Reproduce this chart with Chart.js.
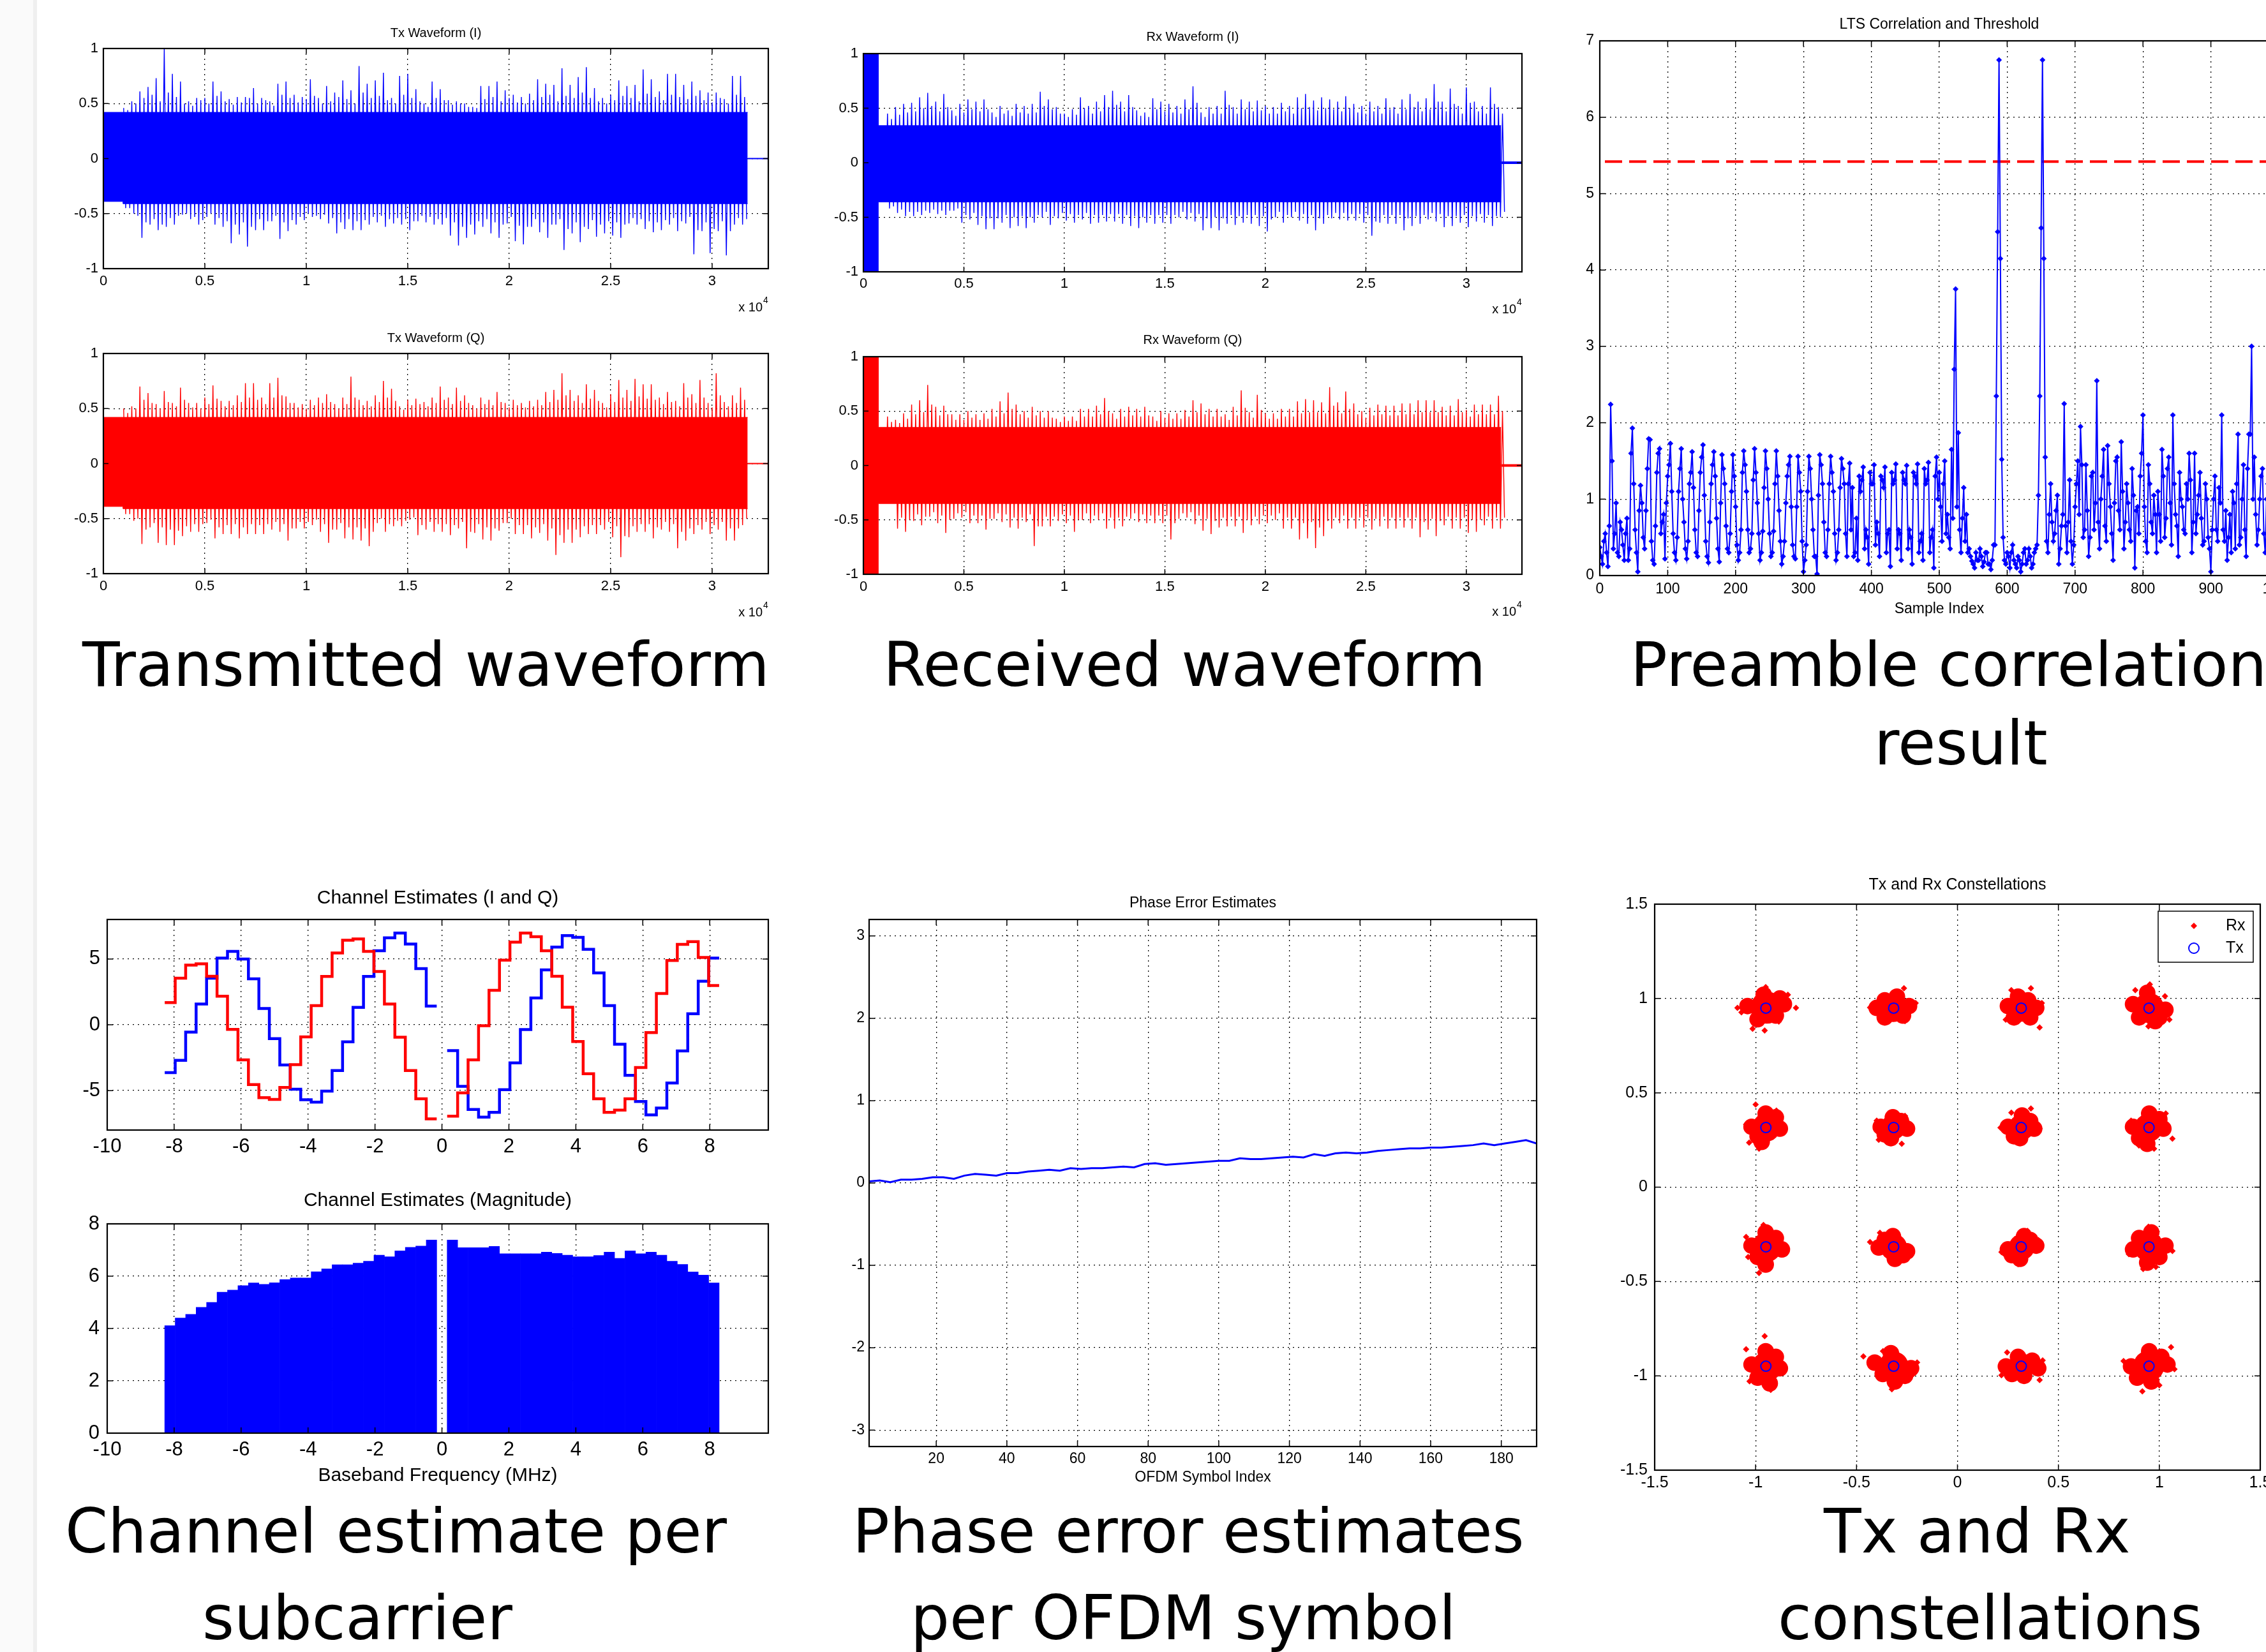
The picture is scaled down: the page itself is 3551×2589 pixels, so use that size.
<!DOCTYPE html>
<html>
<head>
<meta charset="utf-8">
<title>OFDM link plots</title>
<script src="https://cdn.jsdelivr.net/npm/chart.js@4.4.0/dist/chart.umd.min.js"></script>
<style>
html, body { margin: 0; padding: 0; overflow: hidden; background: #fff; }
#page { position: relative; width: 3551px; height: 2589px; overflow: hidden; background: #fff; }
#edge { position: absolute; left: 0; top: 0; width: 52px; height: 2589px; background: #fafafa; border-right: 6px solid #efefef; }
.cap { position: absolute; font-family: 'DejaVu Sans', Verdana, sans-serif; font-size: 96px; line-height: 96px; color: #000; white-space: nowrap; }
canvas { position: absolute; }
</style>
</head>
<body>
<div id="page">
  <div id="edge"></div>
  <div class="cap" style="left:129px;top:994px">Transmitted waveform</div>
  <div class="cap" style="left:1384px;top:994px">Received waveform</div>
  <div class="cap" style="left:2555px;top:994px">Preamble correlation</div>
  <div class="cap" style="left:2937px;top:1117px">result</div>
  <div class="cap" style="left:102px;top:2352px">Channel estimate per</div>
  <div class="cap" style="left:317px;top:2488px">subcarrier</div>
  <div class="cap" style="left:1336px;top:2352px">Phase error estimates</div>
  <div class="cap" style="left:1427px;top:2488px">per OFDM symbol</div>
  <div class="cap" style="left:2858px;top:2352px">Tx and Rx</div>
  <div class="cap" style="left:2786px;top:2488px">constellations</div>
</div>
<script>
// ---------- data ----------
var nSamples = 32768;

// Tx waveform: preamble band, then spike envelope every 400 samples
// (Hi/Lo = tallest spikes in the bin, MidHi/MidLo = the dense fuzz level)
var txPreEnd = 976, txEnd = 31750, txBinStart = 1000, txBinStep = 400;
var txIPre = [0.42, -0.39], txIBand = [0.42, -0.41];
var txQPre = [0.42, -0.39], txQBand = [0.42, -0.41];
var txIHi = [0.46,0.52,0.61,0.65,0.73,1.00,0.77,0.70,0.52,0.55,
  0.55,0.70,0.61,0.54,0.56,0.56,0.64,0.55,0.52,0.68,
  0.70,0.58,0.56,0.72,0.55,0.66,0.60,0.71,0.62,0.84,
  0.68,0.71,0.78,0.55,0.75,0.77,0.63,0.50,0.70,0.63,
  0.53,0.52,0.50,0.47,0.66,0.66,0.70,0.62,0.58,0.56,
  0.59,0.72,0.68,0.67,0.82,0.67,0.74,0.83,0.64,0.55,
  0.58,0.71,0.66,0.67,0.81,0.72,0.61,0.77,0.77,0.67,
  0.70,0.62,0.60,0.60,0.54,0.75,0.75];
var txILo = [-0.45,-0.50,-0.72,-0.60,-0.65,-0.62,-0.60,-0.51,-0.55,-0.60,
  -0.53,-0.60,-0.62,-0.77,-0.69,-0.80,-0.65,-0.65,-0.57,-0.73,
  -0.66,-0.60,-0.56,-0.53,-0.55,-0.59,-0.68,-0.64,-0.65,-0.65,
  -0.60,-0.58,-0.62,-0.59,-0.60,-0.65,-0.57,-0.58,-0.60,-0.60,
  -0.70,-0.79,-0.72,-0.69,-0.62,-0.68,-0.72,-0.59,-0.75,-0.78,
  -0.62,-0.67,-0.72,-0.60,-0.83,-0.68,-0.76,-0.64,-0.71,-0.68,
  -0.70,-0.72,-0.59,-0.60,-0.64,-0.67,-0.65,-0.60,-0.66,-0.59,
  -0.87,-0.66,-0.86,-0.66,-0.88,-0.60,-0.60];
var txIMidHi = [0.44,0.50,0.55,0.58,0.52,0.60,0.56,0.50,0.48,0.53,
  0.50,0.57,0.52,0.49,0.51,0.55,0.50,0.53,0.48,0.58,
  0.55,0.51,0.54,0.57,0.50,0.52,0.56,0.54,0.50,0.60,
  0.55,0.57,0.53,0.50,0.58,0.55,0.52,0.47,0.55,0.53,
  0.49,0.50,0.47,0.46,0.54,0.56,0.52,0.55,0.51,0.50,
  0.53,0.56,0.58,0.52,0.57,0.55,0.60,0.55,0.52,0.50,
  0.53,0.57,0.55,0.52,0.59,0.56,0.53,0.58,0.56,0.54,
  0.57,0.53,0.51,0.55,0.50,0.58,0.56];
var txIMidLo = [-0.45,-0.52,-0.58,-0.55,-0.60,-0.54,-0.52,-0.50,-0.53,-0.56,
  -0.50,-0.54,-0.57,-0.60,-0.58,-0.62,-0.55,-0.57,-0.52,-0.58,
  -0.56,-0.53,-0.50,-0.52,-0.51,-0.54,-0.58,-0.55,-0.57,-0.56,
  -0.53,-0.52,-0.55,-0.54,-0.55,-0.57,-0.52,-0.53,-0.55,-0.54,
  -0.58,-0.62,-0.60,-0.57,-0.55,-0.58,-0.60,-0.53,-0.61,-0.62,
  -0.55,-0.58,-0.60,-0.55,-0.64,-0.58,-0.62,-0.56,-0.60,-0.57,
  -0.58,-0.60,-0.54,-0.55,-0.57,-0.58,-0.56,-0.54,-0.57,-0.53,
  -0.65,-0.58,-0.64,-0.57,-0.66,-0.54,-0.55];
var txQHi = [0.50,0.52,0.70,0.64,0.54,0.66,0.55,0.69,0.55,0.55,
  0.60,0.71,0.57,0.57,0.62,0.73,0.73,0.60,0.73,0.78,
  0.61,0.55,0.54,0.58,0.60,0.63,0.54,0.60,0.79,0.58,
  0.57,0.62,0.75,0.68,0.52,0.58,0.59,0.56,0.60,0.70,
  0.60,0.69,0.62,0.53,0.60,0.58,0.65,0.55,0.58,0.55,
  0.57,0.58,0.65,0.67,0.82,0.67,0.62,0.72,0.67,0.55,
  0.63,0.76,0.67,0.77,0.72,0.72,0.60,0.65,0.57,0.73,
  0.63,0.76,0.55,0.82,0.56,0.62,0.69];
var txQLo = [-0.46,-0.52,-0.73,-0.58,-0.72,-0.74,-0.74,-0.66,-0.62,-0.62,
  -0.54,-0.68,-0.64,-0.64,-0.68,-0.64,-0.64,-0.64,-0.60,-0.62,
  -0.70,-0.59,-0.59,-0.56,-0.62,-0.72,-0.60,-0.68,-0.69,-0.70,
  -0.75,-0.54,-0.62,-0.57,-0.57,-0.51,-0.65,-0.60,-0.62,-0.62,
  -0.65,-0.59,-0.77,-0.63,-0.69,-0.70,-0.61,-0.54,-0.64,-0.64,
  -0.68,-0.63,-0.70,-0.83,-0.72,-0.72,-0.67,-0.64,-0.64,-0.60,
  -0.67,-0.85,-0.67,-0.62,-0.62,-0.68,-0.60,-0.62,-0.77,-0.70,
  -0.64,-0.60,-0.64,-0.60,-0.70,-0.70,-0.56];
var txQMidHi = [0.46,0.50,0.58,0.55,0.50,0.56,0.52,0.58,0.51,0.50,
  0.54,0.59,0.52,0.53,0.56,0.60,0.58,0.54,0.60,0.62,
  0.55,0.51,0.50,0.53,0.55,0.56,0.50,0.54,0.60,0.53,
  0.52,0.56,0.60,0.57,0.49,0.53,0.54,0.52,0.55,0.58,
  0.54,0.57,0.55,0.50,0.54,0.53,0.56,0.51,0.53,0.51,
  0.52,0.53,0.56,0.58,0.62,0.57,0.55,0.59,0.57,0.51,
  0.56,0.60,0.57,0.61,0.59,0.58,0.54,0.56,0.52,0.60,
  0.55,0.60,0.51,0.62,0.52,0.55,0.58];
var txQMidLo = [-0.46,-0.50,-0.60,-0.54,-0.58,-0.60,-0.61,-0.57,-0.55,-0.55,
  -0.51,-0.58,-0.56,-0.55,-0.58,-0.55,-0.56,-0.55,-0.53,-0.55,
  -0.59,-0.53,-0.53,-0.51,-0.55,-0.60,-0.54,-0.58,-0.58,-0.59,
  -0.62,-0.50,-0.55,-0.52,-0.52,-0.49,-0.56,-0.53,-0.55,-0.55,
  -0.56,-0.53,-0.62,-0.55,-0.58,-0.59,-0.54,-0.50,-0.56,-0.56,
  -0.58,-0.55,-0.59,-0.65,-0.60,-0.60,-0.57,-0.56,-0.56,-0.53,
  -0.57,-0.66,-0.57,-0.55,-0.55,-0.58,-0.53,-0.55,-0.62,-0.59,
  -0.56,-0.53,-0.56,-0.53,-0.59,-0.59,-0.50];

// Rx waveform: saturated start, then spike envelope every 400 samples
var rxPreEnd = 740, rxEnd = 31730, rxBinStart = 800, rxBinStep = 400;
var rxPre = [1, -1];
var rxIBand = [0.34, -0.36], rxQBand = [0.35, -0.35];
var rxIHi = [0.30,0.45,0.51,0.54,0.55,0.60,0.64,0.56,0.63,0.48,
  0.54,0.58,0.56,0.58,0.46,0.52,0.48,0.54,0.52,0.54,
  0.65,0.58,0.51,0.45,0.49,0.60,0.52,0.56,0.62,0.66,
  0.56,0.62,0.48,0.46,0.59,0.56,0.54,0.52,0.58,0.70,
  0.46,0.51,0.52,0.66,0.51,0.58,0.56,0.57,0.52,0.51,
  0.55,0.52,0.60,0.63,0.57,0.60,0.58,0.56,0.61,0.54,
  0.52,0.56,0.52,0.59,0.51,0.58,0.63,0.56,0.59,0.72,
  0.56,0.68,0.52,0.69,0.56,0.52,0.69,0.51];
var rxILo = [-0.36,-0.42,-0.46,-0.49,-0.49,-0.48,-0.46,-0.47,-0.48,-0.44,
  -0.55,-0.52,-0.57,-0.61,-0.61,-0.55,-0.60,-0.58,-0.60,-0.55,
  -0.50,-0.57,-0.51,-0.53,-0.55,-0.52,-0.56,-0.55,-0.54,-0.54,
  -0.56,-0.58,-0.60,-0.55,-0.56,-0.55,-0.56,-0.50,-0.52,-0.54,
  -0.62,-0.60,-0.62,-0.56,-0.57,-0.55,-0.56,-0.58,-0.63,-0.50,
  -0.55,-0.50,-0.53,-0.56,-0.62,-0.56,-0.51,-0.52,-0.53,-0.53,
  -0.55,-0.67,-0.55,-0.56,-0.56,-0.62,-0.58,-0.56,-0.52,-0.54,
  -0.59,-0.58,-0.55,-0.59,-0.54,-0.55,-0.58,-0.50];
var rxIMidHi = [0.30,0.40,0.44,0.46,0.47,0.50,0.52,0.47,0.51,0.43,
  0.46,0.49,0.47,0.49,0.42,0.45,0.43,0.46,0.45,0.46,
  0.52,0.49,0.45,0.42,0.44,0.50,0.45,0.47,0.51,0.53,
  0.47,0.51,0.43,0.42,0.49,0.47,0.46,0.45,0.49,0.55,
  0.42,0.45,0.45,0.53,0.45,0.49,0.47,0.48,0.45,0.45,
  0.47,0.45,0.50,0.51,0.48,0.50,0.49,0.47,0.50,0.46,
  0.45,0.47,0.45,0.49,0.45,0.49,0.51,0.47,0.49,0.56,
  0.47,0.54,0.45,0.55,0.47,0.45,0.54,0.45];
var rxIMidLo = [-0.36,-0.40,-0.43,-0.45,-0.45,-0.44,-0.43,-0.44,-0.44,-0.42,
  -0.48,-0.46,-0.49,-0.51,-0.51,-0.48,-0.50,-0.49,-0.50,-0.48,
  -0.45,-0.49,-0.46,-0.47,-0.48,-0.46,-0.48,-0.48,-0.47,-0.47,
  -0.48,-0.49,-0.50,-0.48,-0.48,-0.48,-0.48,-0.45,-0.46,-0.47,
  -0.51,-0.50,-0.51,-0.48,-0.49,-0.48,-0.48,-0.49,-0.52,-0.45,
  -0.48,-0.45,-0.47,-0.48,-0.51,-0.48,-0.46,-0.46,-0.47,-0.47,
  -0.48,-0.54,-0.48,-0.48,-0.48,-0.51,-0.49,-0.48,-0.46,-0.47,
  -0.49,-0.49,-0.48,-0.49,-0.47,-0.48,-0.49,-0.45];
var rxQHi = [0.34,0.45,0.42,0.48,0.56,0.60,0.74,0.54,0.55,0.47,
  0.47,0.50,0.47,0.48,0.52,0.59,0.67,0.56,0.50,0.54,
  0.50,0.50,0.43,0.45,0.45,0.52,0.52,0.55,0.62,0.48,
  0.52,0.54,0.52,0.54,0.45,0.50,0.48,0.48,0.51,0.60,
  0.57,0.52,0.52,0.47,0.54,0.69,0.49,0.65,0.48,0.48,
  0.52,0.52,0.59,0.61,0.60,0.58,0.72,0.58,0.68,0.57,
  0.50,0.53,0.56,0.55,0.55,0.57,0.57,0.60,0.60,0.60,
  0.54,0.55,0.61,0.51,0.56,0.56,0.56,0.64];
var rxQLo = [-0.28,-0.34,-0.58,-0.61,-0.51,-0.55,-0.47,-0.53,-0.62,-0.49,
  -0.48,-0.53,-0.53,-0.59,-0.49,-0.52,-0.57,-0.58,-0.52,-0.74,
  -0.56,-0.56,-0.51,-0.53,-0.61,-0.50,-0.53,-0.50,-0.58,-0.58,
  -0.56,-0.49,-0.52,-0.53,-0.53,-0.53,-0.68,-0.49,-0.48,-0.54,
  -0.60,-0.63,-0.57,-0.56,-0.56,-0.62,-0.55,-0.54,-0.53,-0.50,
  -0.58,-0.58,-0.68,-0.67,-0.76,-0.65,-0.58,-0.53,-0.58,-0.58,
  -0.57,-0.59,-0.56,-0.58,-0.58,-0.57,-0.58,-0.66,-0.59,-0.65,
  -0.55,-0.58,-0.58,-0.62,-0.61,-0.55,-0.58,-0.58];
var rxQMidHi = [0.33,0.40,0.39,0.43,0.47,0.49,0.56,0.46,0.47,0.42,
  0.42,0.44,0.42,0.43,0.45,0.48,0.52,0.47,0.44,0.46,
  0.44,0.44,0.40,0.41,0.41,0.45,0.45,0.47,0.50,0.43,
  0.45,0.46,0.45,0.46,0.41,0.44,0.43,0.43,0.45,0.49,
  0.47,0.45,0.45,0.42,0.46,0.53,0.44,0.51,0.43,0.43,
  0.45,0.45,0.48,0.49,0.49,0.48,0.55,0.48,0.52,0.47,
  0.44,0.46,0.47,0.46,0.46,0.47,0.47,0.49,0.49,0.49,
  0.46,0.46,0.49,0.45,0.47,0.47,0.47,0.50];
var rxQMidLo = [-0.30,-0.34,-0.48,-0.50,-0.45,-0.47,-0.43,-0.46,-0.50,-0.44,
  -0.43,-0.46,-0.46,-0.49,-0.44,-0.45,-0.48,-0.48,-0.45,-0.56,
  -0.47,-0.47,-0.45,-0.46,-0.50,-0.44,-0.46,-0.44,-0.48,-0.48,
  -0.47,-0.44,-0.45,-0.46,-0.46,-0.46,-0.53,-0.44,-0.43,-0.46,
  -0.49,-0.51,-0.48,-0.47,-0.47,-0.50,-0.47,-0.46,-0.46,-0.44,
  -0.48,-0.48,-0.53,-0.52,-0.57,-0.51,-0.48,-0.46,-0.48,-0.48,
  -0.48,-0.49,-0.47,-0.48,-0.48,-0.48,-0.48,-0.52,-0.49,-0.51,
  -0.47,-0.48,-0.48,-0.50,-0.50,-0.47,-0.48,-0.48];

// LTS correlation: ltsVal at samples 0,4,8,...; ltsValMid at samples 2,6,10,...
var ltsStep = 4;
var ltsThreshold = 5.42;
var ltsVal = [0.37,0.15,0.55,0.12,2.24,0.35,0.95,0.25,0.60,0.20,0.75,0.35,1.93,
  0.60,0.05,1.18,0.50,0.85,1.79,0.45,0.15,1.35,1.66,0.70,0.22,
  1.30,1.73,0.55,0.20,1.10,1.66,0.70,0.22,1.20,1.62,0.60,0.25,
  1.35,1.71,0.45,0.17,1.20,1.62,0.75,0.18,1.58,1.20,0.35,0.55,
  1.58,0.90,0.20,0.60,1.63,1.10,0.30,0.55,1.66,0.95,0.20,0.58,
  1.63,1.00,0.25,0.58,1.63,0.85,0.15,0.45,1.30,1.56,0.40,0.22,
  1.56,1.10,0.05,0.40,1.56,1.00,0.25,0.02,1.58,1.20,0.30,0.60,
  1.56,1.10,0.20,0.60,1.53,1.20,0.25,1.47,1.15,0.30,0.20,1.10,
  1.42,0.60,0.15,1.20,1.45,0.70,0.25,1.25,1.42,0.55,0.12,1.20,
  1.46,0.60,0.20,1.25,1.44,0.60,0.15,1.30,1.46,0.45,0.20,1.20,
  1.48,0.50,0.10,1.55,1.35,0.45,1.50,0.80,0.35,0.75,3.75,1.87,
  0.30,1.15,0.80,0.35,0.19,0.10,0.20,0.35,0.12,0.30,0.15,0.08,
  0.40,2.35,6.75,1.52,0.20,0.30,0.10,0.40,0.15,0.25,0.05,0.30,
  0.15,0.35,0.10,0.30,0.40,2.35,6.75,1.55,0.30,1.20,0.45,0.85,
  0.15,0.65,2.25,0.30,1.25,0.15,0.90,1.50,1.95,0.50,1.45,0.25,
  1.30,0.60,2.55,0.35,1.30,0.65,1.70,0.90,0.20,1.50,0.85,1.75,
  0.35,1.20,0.60,1.40,0.10,0.90,1.30,2.10,0.45,1.45,0.70,1.05,
  0.30,0.80,1.65,0.50,1.40,0.95,2.10,0.80,0.25,1.00,0.60,1.20,
  1.60,0.30,1.60,0.80,1.35,0.40,1.20,0.50,0.05,1.00,0.60,1.15,
  2.10,0.45,0.20,0.80,1.10,0.35,1.85,0.50,1.45,0.25,1.85,3.00,
  1.55,0.40,1.00,1.40,0.30,1.20,0.70,1.30,0.45,1.00,1.40,0.60,1.10];
var ltsValMid = [0.25,0.45,0.30,0.65,1.50,0.55,0.30,0.70,0.40,0.55,0.20,1.60,
  1.20,0.30,0.85,0.95,0.35,1.40,1.78,0.20,0.65,1.60,0.55,0.80,
  0.95,1.45,1.10,0.30,0.50,1.40,1.00,0.35,0.45,1.35,1.15,0.30,
  0.85,1.55,1.05,0.25,0.70,1.45,1.30,0.35,0.95,1.40,0.65,0.30,
  1.10,1.30,0.40,0.30,1.35,1.45,0.60,0.35,1.25,1.35,0.55,0.30,
  1.15,1.40,0.55,0.30,1.20,1.30,0.45,0.25,0.95,1.45,0.90,0.25,
  0.90,1.35,0.45,0.20,1.10,1.40,0.60,0.25,1.05,1.45,0.70,0.25,
  1.20,1.35,0.55,0.30,1.15,1.40,0.55,1.20,0.60,0.25,0.75,1.30,
  1.25,0.35,0.50,1.35,1.20,0.40,0.55,1.30,1.15,0.30,0.60,1.35,
  1.25,0.35,0.55,1.35,1.20,0.35,0.50,1.35,1.20,0.30,0.55,1.40,
  1.25,0.30,0.60,1.30,1.00,0.90,1.20,0.55,0.50,1.65,2.70,0.90,
  0.60,0.75,0.45,0.30,0.25,0.15,0.30,0.20,0.25,0.18,0.30,0.15,
  0.20,0.40,4.50,4.15,0.50,0.15,0.25,0.30,0.20,0.10,0.20,0.15,
  0.35,0.20,0.25,0.15,0.35,1.05,4.55,4.15,0.45,0.80,0.70,0.55,
  1.05,0.35,0.80,0.65,0.70,0.45,0.40,1.20,0.80,1.45,0.60,0.85,
  0.50,1.35,0.95,0.70,1.00,1.65,0.45,1.20,0.55,0.95,1.55,0.60,
  1.10,0.70,0.95,0.45,1.05,0.85,0.55,1.60,0.90,0.30,1.20,0.55,
  0.80,1.10,0.45,1.30,0.75,1.55,0.40,1.20,0.65,1.35,0.90,0.55,
  1.00,1.25,0.70,0.55,1.05,0.75,0.45,1.00,0.35,0.60,1.30,0.45,
  0.95,0.60,0.85,0.50,0.30,0.95,1.20,0.40,1.00,0.60,1.40,1.85,
  1.00,0.80,0.60,1.30,0.55,1.00,0.45,1.20,0.85,0.70,1.20,0.50,0.90];

// channel estimates per subcarrier (0.3125 MHz spacing)
var scSpacing = 0.3125;
var subcarriers = [-26,-25,-24,-23,-22,-21,-20,-19,-18,-17,-16,-15,-14,-13,-12,-11,-10,-9,-8,-7,-6,-5,-4,-3,-2,-1,
  1,2,3,4,5,6,7,8,9,10,11,12,13,14,15,16,17,18,19,20,21,22,23,24,25,26];
var chanI = [-3.64,-2.70,-0.56,1.57,3.54,5.07,5.58,5.00,3.49,1.24,-1.05,-3.05,-4.90,-5.70,-5.88,-5.04,-3.48,-1.30,1.32,3.67,5.63,6.61,6.97,6.13,4.27,1.42,
  -1.96,-4.68,-6.44,-7.02,-6.66,-4.93,-2.90,-0.36,2.04,4.17,5.90,6.77,6.64,5.73,3.94,1.45,-1.48,-3.84,-5.83,-6.85,-6.33,-4.43,-1.99,0.84,3.31,5.07];
var chanQ = [1.68,3.54,4.53,4.63,3.69,2.17,-0.35,-2.67,-4.55,-5.54,-5.67,-4.76,-3.03,-0.92,1.45,3.67,5.45,6.43,6.52,5.57,4.05,1.58,-0.94,-3.48,-5.62,-7.15,
  -6.95,-5.17,-2.67,-0.07,2.62,4.91,6.28,6.97,6.69,5.62,3.69,1.33,-1.27,-3.72,-5.63,-6.66,-6.49,-5.62,-3.25,-0.59,2.37,4.88,6.11,6.31,5.12,2.98];
var chanMag = [4.11,4.40,4.54,4.81,5.00,5.39,5.47,5.64,5.74,5.69,5.75,5.87,5.93,5.93,6.17,6.28,6.44,6.44,6.50,6.57,6.80,6.74,6.97,7.10,7.15,7.38,
  7.38,7.09,7.09,7.09,7.14,6.86,6.86,6.86,6.86,6.92,6.87,6.80,6.74,6.74,6.79,6.92,6.68,6.97,6.86,6.92,6.80,6.57,6.45,6.16,6.04,5.74];

// phase error per OFDM symbol
var phaseSym = [1,4,7,10,13,16,19,22,25,28,31,34,37,40,43,46,49,52,55,58,61,64,67,70,73,76,79,82,85,88,91,94,
  97,100,103,106,109,112,115,118,121,124,127,130,133,136,139,142,145,148,151,154,157,160,163,166,169,172,175,178,181,184,187,190];
var phaseVal = [0.02,0.03,0.01,0.04,0.04,0.05,0.07,0.07,0.05,0.09,
  0.11,0.10,0.09,0.12,0.12,0.14,0.15,0.16,0.15,0.18,
  0.17,0.18,0.18,0.19,0.20,0.19,0.23,0.24,0.22,0.23,
  0.24,0.25,0.26,0.27,0.27,0.30,0.29,0.29,0.30,0.31,
  0.32,0.31,0.35,0.33,0.36,0.37,0.36,0.37,0.39,0.40,
  0.41,0.42,0.42,0.43,0.43,0.44,0.45,0.46,0.48,0.46,
  0.48,0.50,0.52,0.48];

// 16-QAM constellation
var qamLevels = [-0.949, -0.316, 0.316, 0.949];
var rxCoreI = [-0.945,-0.318,0.318,0.948, -0.948,-0.318,0.318,0.946, -0.946,-0.316,0.318,0.948, -0.946,-0.316,0.318,0.948];
var rxCoreQ = [0.952,0.950,0.952,0.950, 0.316,0.318,0.318,0.314, -0.318,-0.318,-0.318,-0.316, -0.952,-0.950,-0.950,-0.948];
var rxCoreSpread = [0.080,0.070,0.070,0.075, 0.070,0.062,0.064,0.070, 0.074,0.066,0.064,0.074, 0.074,0.074,0.064,0.077];
var rxFringeI = [-1.04,-0.86,-0.99,-0.90,-0.96,-0.88,
  -0.40,-0.24,-0.36,-0.27,-0.30,-0.36,
  0.25,0.39,0.28,0.36,0.30,0.35,
  0.87,1.03,0.90,1.00,0.94,0.98,
  -1.02,-0.88,-0.95,-0.97,-0.90,-0.99,
  -0.38,-0.25,-0.32,-0.33,-0.28,-0.36,
  0.25,0.38,0.32,0.31,0.36,0.28,
  0.87,1.02,0.95,0.94,1.00,0.90,
  -1.02,-0.87,-0.95,-0.95,-0.99,-0.90,
  -0.39,-0.25,-0.32,-0.31,-0.36,-0.27,
  0.25,0.39,0.33,0.31,0.36,0.27,
  0.87,1.03,0.96,0.94,1.00,0.90,
  -1.02,-0.88,-0.95,-0.93,-0.99,-0.90,
  -0.41,-0.23,-0.33,-0.31,-0.26,-0.37,
  0.24,0.40,0.30,0.33,0.37,0.27,
  0.86,1.04,0.95,0.96,1.01,0.89];
var rxFringeQ = [0.96,0.97,0.89,0.91,1.02,1.00,
  0.95,0.96,0.90,0.91,1.01,0.99,
  0.96,0.95,0.90,0.90,1.01,0.99,
  0.97,0.94,0.90,0.90,1.03,0.88,
  0.32,0.31,0.39,0.24,0.37,0.27,
  0.32,0.31,0.37,0.26,0.35,0.28,
  0.32,0.31,0.38,0.26,0.35,0.27,
  0.32,0.31,0.39,0.23,0.36,0.26,
  -0.31,-0.33,-0.24,-0.41,-0.37,-0.27,
  -0.32,-0.34,-0.26,-0.38,-0.28,-0.36,
  -0.33,-0.31,-0.26,-0.38,-0.28,-0.36,
  -0.33,-0.31,-0.24,-0.40,-0.37,-0.27,
  -0.94,-0.96,-0.87,-1.04,-1.01,-0.90,
  -0.93,-0.96,-0.88,-1.03,-1.00,-0.99,
  -0.95,-0.96,-0.90,-1.00,-0.92,-0.99,
  -0.95,-0.94,-0.87,-1.03,-0.90,-1.01];
var rxOutI = [-1.09,-1.015,-0.955,-0.80,-0.885,-0.95,-1.07,-0.84,
  -0.265,-0.433,-0.207,-0.369,-0.26,
  0.407,0.239,0.418,0.267,0.364,
  0.953,1.05,0.849,0.946,1.028,0.881,
  -1.0,-0.983,-0.869,-1.047,-1.032,-0.897,
  -0.39,-0.276,-0.228,-0.40,-0.26,
  0.364,0.213,0.267,0.407,0.30,
  1.065,0.899,0.974,1.032,0.86,
  -0.983,-0.961,-0.86,-1.047,-1.037,
  -0.433,-0.384,-0.239,-0.315,
  0.218,0.347,0.401,0.30,
  0.849,0.92,0.983,1.065,0.946,
  -0.955,-1.047,-0.925,-0.866,-1.03,
  -0.466,-0.20,-0.325,-0.218,-0.369,
  0.246,0.422,0.407,0.218,
  0.823,1.058,0.916,1.075,1.0];
var rxOutQ = [0.95,0.84,0.83,0.95,0.878,1.06,0.927,1.02,
  1.054,0.952,0.976,0.888,0.88,
  0.846,0.888,0.976,1.044,1.054,
  1.075,0.888,0.98,0.852,1.012,1.044,
  0.438,0.204,0.332,0.332,0.236,0.406,
  0.251,0.23,0.295,0.353,0.378,
  0.417,0.315,0.395,0.31,0.247,
  0.257,0.221,0.204,0.391,0.353,
  -0.455,-0.2,-0.355,-0.264,-0.37,
  -0.291,-0.242,-0.359,-0.402,
  -0.344,-0.232,-0.281,-0.408,
  -0.355,-0.434,-0.423,-0.338,-0.21,
  -0.79,-0.859,-1.075,-0.969,-1.029,
  -0.897,-0.929,-1.071,-0.99,-0.869,
  -0.876,-0.918,-1.022,-0.997,
  -0.922,-0.848,-1.082,-0.965,-1.05];

// ---------- drawing ----------
var FONT = "'Liberation Sans', Arial, Helvetica, sans-serif";
var BLUE = '#0000ff', RED = '#ff0000';
Chart.defaults.animation = false;
Chart.defaults.events = [];
Chart.defaults.font.family = FONT;
Chart.defaults.plugins.legend.display = false;
Chart.defaults.plugins.tooltip.enabled = false;

// matlab style box, inward ticks, tick labels, title
var decor = {
  id: 'decor',
  afterDatasetsDraw: function (chart, args, o) {
    var ctx = chart.ctx, a = chart.chartArea, xs = chart.scales.x, ys = chart.scales.y;
    var fmt = function (v, d) { return String(+(v / d).toFixed(4)); };
    ctx.save();
    ctx.strokeStyle = '#000';
    ctx.lineWidth = 1.5;
    ctx.beginPath();
    xs.ticks.forEach(function (t) {
      var p = xs.getPixelForValue(t.value);
      if (p < a.left + 2 || p > a.right - 2) return;
      ctx.moveTo(p, a.bottom); ctx.lineTo(p, a.bottom - o.tick);
      ctx.moveTo(p, a.top); ctx.lineTo(p, a.top + o.tick);
    });
    ys.ticks.forEach(function (t) {
      var p = ys.getPixelForValue(t.value);
      if (p < a.top + 2 || p > a.bottom - 2) return;
      ctx.moveTo(a.left, p); ctx.lineTo(a.left + o.tick, p);
      ctx.moveTo(a.right, p); ctx.lineTo(a.right - o.tick, p);
    });
    ctx.stroke();
    ctx.lineWidth = 2.2;
    ctx.strokeRect(a.left, a.top, a.right - a.left, a.bottom - a.top);

    ctx.fillStyle = '#000';
    ctx.textBaseline = 'middle';
    ctx.font = o.size + 'px ' + FONT;
    ctx.textAlign = 'center';
    xs.ticks.forEach(function (t) {
      ctx.fillText(fmt(t.value, o.xdiv), xs.getPixelForValue(t.value), a.bottom + o.xgap);
    });
    ctx.textAlign = 'right';
    ys.ticks.forEach(function (t) {
      ctx.fillText(fmt(t.value, 1), a.left - o.ygap, ys.getPixelForValue(t.value));
    });
    ctx.textAlign = 'center';
    ctx.font = o.tsize + 'px ' + FONT;
    ctx.fillText(o.title, (a.left + a.right) / 2, a.top - o.tgap);
    if (o.xlabel) ctx.fillText(o.xlabel, (a.left + a.right) / 2, a.bottom + o.lgap);
    if (o.exp) {
      ctx.textAlign = 'right';
      ctx.fillText('x 10', a.right - 9, a.bottom + o.exp);
      ctx.textAlign = 'left';
      ctx.font = Math.round(o.tsize * 0.7) + 'px ' + FONT;
      ctx.fillText('4', a.right - 8, a.bottom + o.exp - 11);
    }
    if (o.legend) {
      var lx = a.right - 160, ly = a.top + 11;
      ctx.fillStyle = '#fff';
      ctx.fillRect(lx, ly, 149, 80);
      ctx.lineWidth = 1.5;
      ctx.strokeRect(lx, ly, 149, 80);
      // Rx entry
      ctx.fillStyle = RED;
      ctx.beginPath();
      ctx.moveTo(lx + 56, ly + 18); ctx.lineTo(lx + 61, ly + 23);
      ctx.lineTo(lx + 56, ly + 28); ctx.lineTo(lx + 51, ly + 23);
      ctx.closePath(); ctx.fill();
      // Tx entry
      ctx.strokeStyle = BLUE; ctx.lineWidth = 2;
      ctx.beginPath(); ctx.arc(lx + 56, ly + 58, 8, 0, Math.PI * 2); ctx.stroke();
      ctx.fillStyle = '#000';
      ctx.font = o.size + 'px ' + FONT;
      ctx.textAlign = 'left';
      ctx.fillText('Rx', lx + 106, ly + 23);
      ctx.fillText('Tx', lx + 106, ly + 58);
    }
    ctx.restore();
  }
};

function axis(min, max, ticks) {
  return {
    type: 'linear', min: min, max: max, offset: false,
    afterBuildTicks: function (s) { s.ticks = ticks.map(function (v) { return { value: v }; }); },
    afterFit: function (s) { if (s.isHorizontal()) s.height = 0; else s.width = 0; },
    ticks: { display: false },
    grid: { color: '#000', lineWidth: 1.3, drawTicks: false, offset: false },
    border: { display: false, dash: [2, 6] }
  };
}

function range(a, b, s) {
  var r = [];
  for (var v = a; v <= b + 1e-9; v += s) r.push(+v.toFixed(4));
  return r;
}

// box = [left, top, right, bottom] of the plot area on the page, m = margins
function makeChart(box, m, config) {
  var c = document.createElement('canvas');
  var w = box[2] - box[0] + m[0] + m[2];
  var h = box[3] - box[1] + m[1] + m[3];
  c.width = w; c.height = h;
  c.style.left = (box[0] - m[0]) + 'px';
  c.style.top = (box[1] - m[1]) + 'px';
  c.style.width = w + 'px';
  c.style.height = h + 'px';
  document.getElementById('page').appendChild(c);
  config.options.responsive = false;
  config.options.devicePixelRatio = 1;
  config.options.layout = { padding: { left: m[0], top: m[1], right: m[2], bottom: m[3] } };
  config.plugins = [decor];
  return new Chart(c, config);
}

// spike trace: tall spike up, tall spike down, fuzz up, fuzz down in every bin
function zigzag(start, step, hi, lo, midHi, midLo) {
  var pts = [];
  for (var k = 0; k < hi.length; k++) {
    var x = start + step * k;
    pts.push({ x: x, y: hi[k] });
    pts.push({ x: x + step / 4, y: lo[k] });
    pts.push({ x: x + step / 2, y: midHi[k] });
    pts.push({ x: x + step * 3 / 4, y: midLo[k] });
  }
  return pts;
}

function waveChart(box, color, title, w, gaps) {
  return makeChart(box, [80, 50, 30, 80], {
    type: 'line',
    data: {
      datasets: [
        { data: zigzag(w.start, w.step, w.hi, w.lo, w.midHi, w.midLo), borderColor: color, borderWidth: 1.4, pointRadius: 0, fill: false },
        { data: [{ x: w.end, y: 0 }, { x: nSamples, y: 0 }], borderColor: color, borderWidth: gaps.tail, pointRadius: 0, fill: false },
        { data: [{ x: 0, y: w.pre[0] }, { x: w.preEnd, y: w.pre[0] }, { x: w.preEnd, y: w.band[0] }, { x: w.end, y: w.band[0] }],
          borderColor: color, borderWidth: 1, pointRadius: 0, fill: '+1', backgroundColor: color },
        { data: [{ x: 0, y: w.pre[1] }, { x: w.preEnd, y: w.pre[1] }, { x: w.preEnd, y: w.band[1] }, { x: w.end, y: w.band[1] }],
          borderColor: color, borderWidth: 1, pointRadius: 0, fill: false }
      ]
    },
    options: {
      scales: { x: axis(0, nSamples, range(0, 30000, 5000)), y: axis(-1, 1, [-1, -0.5, 0, 0.5, 1]) },
      plugins: { decor: { title: title, size: 22, tsize: 20, tick: 8, xdiv: 10000,
        xgap: gaps.x, ygap: 8, tgap: gaps.t, exp: gaps.e } }
    }
  });
}

waveChart([162, 76, 1204, 421], BLUE, 'Tx Waveform (I)',
  { start: txBinStart, step: txBinStep, end: txEnd, pre: txIPre, preEnd: txPreEnd, band: txIBand,
    hi: txIHi, lo: txILo, midHi: txIMidHi, midLo: txIMidLo },
  { x: 20, t: 24, e: 61, tail: 2 });
waveChart([162, 554, 1204, 899], RED, 'Tx Waveform (Q)',
  { start: txBinStart, step: txBinStep, end: txEnd, pre: txQPre, preEnd: txPreEnd, band: txQBand,
    hi: txQHi, lo: txQLo, midHi: txQMidHi, midLo: txQMidLo },
  { x: 20, t: 24, e: 61, tail: 2 });
waveChart([1353, 84, 2385, 426], BLUE, 'Rx Waveform (I)',
  { start: rxBinStart, step: rxBinStep, end: rxEnd, pre: rxPre, preEnd: rxPreEnd, band: rxIBand,
    hi: rxIHi, lo: rxILo, midHi: rxIMidHi, midLo: rxIMidLo },
  { x: 19, t: 26, e: 59, tail: 4 });
waveChart([1353, 559, 2385, 900], RED, 'Rx Waveform (Q)',
  { start: rxBinStart, step: rxBinStep, end: rxEnd, pre: rxPre, preEnd: rxPreEnd, band: rxQBand,
    hi: rxQHi, lo: rxQLo, midHi: rxQMidHi, midLo: rxQMidLo },
  { x: 20, t: 26, e: 59, tail: 4 });

// LTS correlation: merge the two interleaved readings in sample order
var ltsPts = [];
ltsVal.forEach(function (v, i) {
  ltsPts.push({ x: i * ltsStep, y: v });
  if (i < ltsValMid.length) ltsPts.push({ x: i * ltsStep + ltsStep / 2, y: ltsValMid[i] });
});

makeChart([2507, 64, 3571, 902], [80, 60, 40, 70], {
  type: 'line',
  data: {
    datasets: [
      { data: ltsPts, borderColor: BLUE, borderWidth: 2, pointStyle: 'rectRot', pointRadius: 4.5,
        pointBackgroundColor: BLUE, pointBorderWidth: 0, fill: false },
      { data: [{ x: 0, y: ltsThreshold }, { x: 1000, y: ltsThreshold }],
        borderColor: RED, borderWidth: 4, borderDash: [27, 11], borderDashOffset: -8, pointRadius: 0, fill: false }
    ]
  },
  options: {
    scales: { x: axis(0, 1000, range(0, 1000, 100)), y: axis(0, 7, range(0, 7, 1)) },
    plugins: { decor: { title: 'LTS Correlation and Threshold', xlabel: 'Sample Index', size: 23, tsize: 23,
      tick: 9, xdiv: 1, xgap: 22, ygap: 9, tgap: 25, lgap: 53 } }
  }
});

// channel estimates: I and Q as centred stairs
function stairPoints(vals) {
  var pts = [];
  for (var i = 0; i < subcarriers.length; i++) {
    var f = subcarriers[i] * scSpacing;
    pts.push({ x: f - scSpacing / 2, y: vals[i] });
    var next = subcarriers[i + 1];
    if (next === undefined || next !== subcarriers[i] + 1) {
      pts.push({ x: f + scSpacing / 2, y: vals[i] });
      if (next !== undefined) pts.push({ x: f + scSpacing, y: null });
    }
  }
  return pts;
}

makeChart([168, 1441, 1204, 1771], [100, 60, 30, 50], {
  type: 'line',
  data: {
    datasets: [
      { data: stairPoints(chanQ), borderColor: RED, borderWidth: 4.5, stepped: 'before', pointRadius: 0, fill: false },
      { data: stairPoints(chanI), borderColor: BLUE, borderWidth: 4.5, stepped: 'before', pointRadius: 0, fill: false }
    ]
  },
  options: {
    scales: { x: axis(-10, 9.75, range(-10, 8, 2)), y: axis(-8, 8, [-5, 0, 5]) },
    plugins: { decor: { title: 'Channel Estimates (I and Q)', size: 31, tsize: 30, tick: 9, xdiv: 1,
      xgap: 26, ygap: 11, tgap: 33 } }
  }
});

makeChart([168, 1918, 1204, 2246], [100, 60, 30, 90], {
  type: 'bar',
  data: {
    datasets: [
      { data: chanMag.map(function (v, i) { return { x: subcarriers[i] * scSpacing, y: v }; }),
        backgroundColor: BLUE, borderWidth: 0, barPercentage: 1, categoryPercentage: 1 }
    ]
  },
  options: {
    scales: { x: axis(-10, 9.75, range(-10, 8, 2)), y: axis(0, 8, range(0, 8, 2)) },
    plugins: { decor: { title: 'Channel Estimates (Magnitude)', xlabel: 'Baseband Frequency (MHz)', size: 31,
      tsize: 30, tick: 9, xdiv: 1, xgap: 26, ygap: 12, tgap: 36, lgap: 67 } }
  }
});

// phase error
makeChart([1362, 1441, 2408, 2267], [70, 50, 30, 70], {
  type: 'line',
  data: {
    datasets: [
      { data: phaseVal.map(function (v, i) { return { x: phaseSym[i], y: v }; }),
        borderColor: BLUE, borderWidth: 3, pointRadius: 0, fill: false }
    ]
  },
  options: {
    scales: { x: axis(1, 190, range(20, 180, 20)), y: axis(-3.2, 3.2, range(-3, 3, 1)) },
    plugins: { decor: { title: 'Phase Error Estimates', xlabel: 'OFDM Symbol Index', size: 23, tsize: 23,
      tick: 9, xdiv: 1, xgap: 20, ygap: 7, tgap: 25, lgap: 49 } }
  }
});

// constellations
var txPts = [];
[qamLevels[3], qamLevels[2], qamLevels[1], qamLevels[0]].forEach(function (q) {
  qamLevels.forEach(function (i) { txPts.push({ x: i, y: q }); });
});

makeChart([2593, 1417, 3542, 2304], [100, 50, 15, 40], {
  type: 'scatter',
  data: {
    datasets: [
      { data: txPts, pointStyle: 'circle', pointRadius: 8, borderColor: BLUE, pointBorderWidth: 2,
        backgroundColor: 'rgba(0,0,0,0)' },
      { data: rxOutI.map(function (v, i) { return { x: v, y: rxOutQ[i] }; }),
        pointStyle: 'rectRot', pointRadius: 5, backgroundColor: RED, borderColor: RED, pointBorderWidth: 0 },
      { data: rxFringeI.map(function (v, i) { return { x: v, y: rxFringeQ[i] }; }),
        pointStyle: 'circle', pointRadius: 13, backgroundColor: RED, borderColor: RED, pointBorderWidth: 0 },
      { data: rxCoreI.map(function (v, i) { return { x: v, y: rxCoreQ[i] }; }),
        pointStyle: 'circle', backgroundColor: RED, borderColor: RED, pointBorderWidth: 0,
        pointRadius: function (c) {
          if (c.type !== 'data') return 0;
          var xs = c.chart.scales.x;
          return rxCoreSpread[c.dataIndex] * Math.abs(xs.getPixelForValue(1) - xs.getPixelForValue(0));
        } }
    ]
  },
  options: {
    scales: { x: axis(-1.5, 1.5, range(-1.5, 1.5, 0.5)), y: axis(-1.5, 1.5, range(-1.5, 1.5, 0.5)) },
    plugins: { decor: { title: 'Tx and Rx Constellations', size: 25, tsize: 25, tick: 9, xdiv: 1,
      xgap: 20, ygap: 11, tgap: 30, legend: true } }
  }
});
</script>
</body>
</html>
